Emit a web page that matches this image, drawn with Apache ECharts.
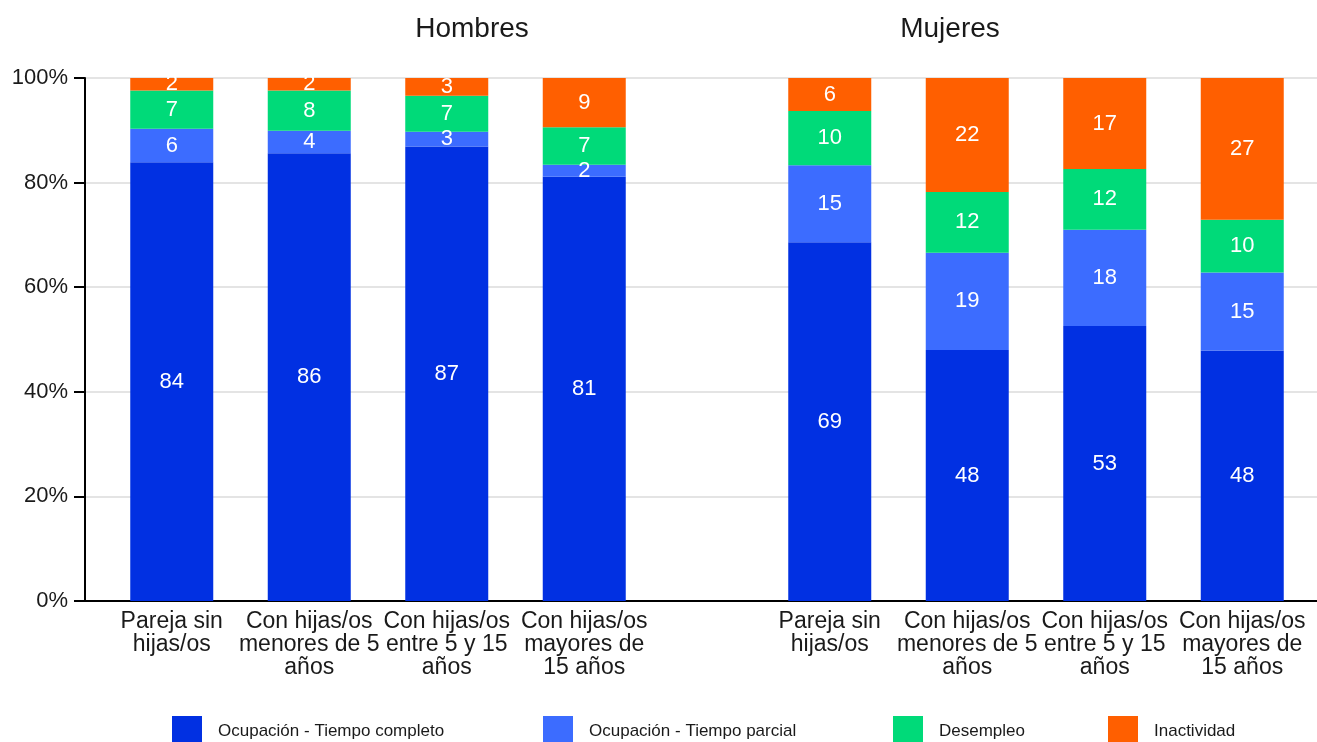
<!DOCTYPE html>
<html>
<head>
<meta charset="utf-8">
<script src="https://cdn.jsdelivr.net/npm/echarts@6/dist/echarts.min.js"></script>
<style>
  html, body { margin: 0; padding: 0; background: #fff; }
  #chart { width: 1317px; height: 742px; }
</style>
</head>
<body>
<div id="chart"></div>
<script>
// categorías (eje x, mismas para los dos paneles)
const categories = ['Pareja sin\nhijas/os', 'Con hijas/os\nmenores de 5\naños', 'Con hijas/os\nentre 5 y 15\naños', 'Con hijas/os\nmayores de\n15 años'];
const seriesNames = ['Ocupación - Tiempo completo', 'Ocupación - Tiempo parcial', 'Desempleo', 'Inactividad'];
const colors = ['#0130E2', '#3C6CFF', '#00DA79', '#FF5F00'];

// % Hombres
const hombresCompleto = [83.9, 85.6, 86.9, 81.1];
const hombresParcial  = [6.4, 4.3, 2.8, 2.3];
const hombresDesempleo = [7.3, 7.7, 6.9, 7.2];
const hombresInactividad = [2.4, 2.4, 3.4, 9.4];

// % Mujeres
const mujeresCompleto = [68.6, 48.0, 52.6, 47.9];
const mujeresParcial  = [14.7, 18.6, 18.4, 14.9];
const mujeresDesempleo = [10.4, 11.6, 11.6, 10.1];
const mujeresInactividad = [6.3, 21.8, 17.4, 27.1];

const yTicks = [0, 20, 40, 60, 80, 100];

const FONT = '"Liberation Sans", Arial, sans-serif';
const TXT = '#1a1a1a';

function barGroup(datasets, axisIndex) {
  return datasets.map((d, i) => ({
    name: seriesNames[i], type: 'bar', stack: 'g' + axisIndex,
    xAxisIndex: axisIndex, yAxisIndex: axisIndex,
    barWidth: 83, data: d,
    itemStyle: { color: colors[i] },
    label: { show: true, position: 'inside', color: '#fff', fontSize: 22, fontFamily: FONT,
      formatter: (p) => Math.round(p.value) },
  }));
}

function catAxis(gridIndex) {
  return {
    type: 'category', gridIndex, data: categories,
    axisLine: { show: false }, axisTick: { show: false },
    axisLabel: { interval: 0, color: TXT, fontSize: 23, lineHeight: 23, margin: 9, fontFamily: FONT },
  };
}
function hiddenY(gridIndex) {
  return { type: 'value', gridIndex, min: 0, max: 100, show: false, splitLine: { show: false } };
}

const chart = echarts.init(document.getElementById('chart'), null, { renderer: 'canvas' });
chart.setOption({
  animation: false,
  textStyle: { fontFamily: FONT },
  graphic: [
    { type: 'text', x: 472, y: 29, style: { text: 'Hombres', textAlign: 'center', textVerticalAlign: 'middle', font: '28px ' + FONT, fill: TXT } },
    { type: 'text', x: 950, y: 29, style: { text: 'Mujeres', textAlign: 'center', textVerticalAlign: 'middle', font: '28px ' + FONT, fill: TXT } },
  ],
  legend: seriesNames.map((n, i) => ({
    data: [n], left: [172, 543, 893, 1108][i], top: 716, padding: 0,
    itemWidth: 30, itemHeight: 30, icon: 'rect',
    textStyle: { color: TXT, fontSize: 17, fontFamily: FONT, padding: [0, 0, 0, 11] },
  })),
  grid: [
    { left: 85, right: 0, top: 78, bottom: 141 },
    { left: 103, width: 550, top: 78, bottom: 141 },
    { left: 761, width: 550, top: 78, bottom: 141 },
  ],
  xAxis: [
    { type: 'value', gridIndex: 0, min: 0, max: 1, axisLabel: { show: false }, axisTick: { show: false },
      splitLine: { show: false }, axisLine: { show: true, lineStyle: { color: '#000', width: 2 } } },
    catAxis(1), catAxis(2),
  ],
  yAxis: [
    { type: 'value', gridIndex: 0, min: yTicks[0], max: yTicks[yTicks.length - 1], interval: 20,
      axisLine: { show: true, lineStyle: { color: '#000', width: 2 } },
      axisTick: { show: true, length: 11, lineStyle: { color: '#000', width: 2 } },
      axisLabel: { color: TXT, fontSize: 22, margin: 17, formatter: '{value}%', fontFamily: FONT },
      splitLine: { show: true, lineStyle: { color: '#e4e4e4', width: 2 } } },
    hiddenY(1), hiddenY(2),
  ],
  series: [
    ...barGroup([hombresCompleto, hombresParcial, hombresDesempleo, hombresInactividad], 1),
    ...barGroup([mujeresCompleto, mujeresParcial, mujeresDesempleo, mujeresInactividad], 2),
  ],
});
</script>
</body>
</html>
